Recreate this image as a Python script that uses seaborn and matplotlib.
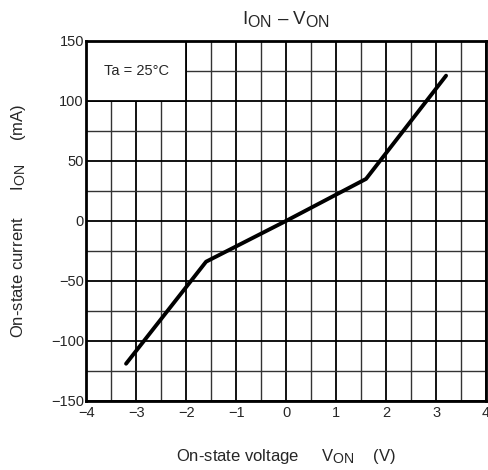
import matplotlib
matplotlib.use("Agg")
import matplotlib.pyplot as plt
import matplotlib._mathtext as mathtext_internals
from matplotlib.patches import Rectangle
import numpy as np
import pandas as pd
import seaborn as sns

# curve
v_on = [-3.2, -1.6, 0.0, 1.6, 3.2]
i_on = [-119, -34, 0, 35, 121]

x_ticks = [-4, -3, -2, -1, 0, 1, 2, 3, 4]
y_ticks = [-150, -100, -50, 0, 50, 100, 150]

sns.set_style("white")
plt.rcParams['font.family'] = ['Liberation Sans', 'DejaVu Sans']
plt.rcParams['mathtext.fontset'] = 'custom'
plt.rcParams['mathtext.rm'] = 'Liberation Sans'
plt.rcParams['mathtext.it'] = 'Liberation Sans'
# datasheet subscripts are nearly full size
mathtext_internals.SHRINK_FACTOR = 0.85

df = pd.DataFrame({"V": v_on, "I": i_on})

fig = plt.figure(figsize=(4.89, 4.70), dpi=100)
ax = fig.add_axes([0.176, 0.147, 0.818, 0.766])

sns.lineplot(data=df, x="V", y="I", color="black", linewidth=2.8,
             sort=False, ax=ax, zorder=5)

ax.set_xlim(-4, 4)
ax.set_ylim(-150, 150)
ax.set_xticks(x_ticks)
ax.set_yticks(y_ticks)
ax.set_xticklabels([str(t).replace("-", "\u2212") for t in x_ticks])
ax.set_yticklabels([str(t).replace("-", "\u2212") for t in y_ticks])
ax.set_xticks(np.arange(-4, 4.01, 0.5), minor=True)
ax.set_yticks(np.arange(-150, 151, 25), minor=True)
ax.grid(which="major", color="black", linewidth=1.3)
ax.grid(which="minor", color="#333333", linewidth=1.0)
ax.tick_params(which="both", length=0, labelsize=10.5)
ax.tick_params(axis="x", pad=4)
ax.tick_params(axis="y", pad=1.5)
for s in ax.spines.values():
    s.set_linewidth(2)
    s.set_color("black")
    s.set_zorder(6)

# condition box in the upper-left corner
ax.add_patch(Rectangle((-4, 100), 2, 50, facecolor="white",
                       edgecolor="black", linewidth=1.3, zorder=3))
ax.text(-3, 125, "Ta = 25°C", ha="center", va="center", fontsize=10.5, zorder=4)

ax.set_title(r"I$_{\mathrm{ON}}$ – V$_{\mathrm{ON}}$", fontsize=13.5, y=1.025)
ax.set_xlabel(r"On-state voltage     V$_{\mathrm{ON}}$    (V)", fontsize=12)
ax.set_ylabel(r"On-state current      I$_{\mathrm{ON}}$     (mA)", fontsize=12)
ax.xaxis.set_label_coords(0.5, -0.128)
ax.yaxis.set_label_coords(-0.145, 0.5)

fig.savefig("out.png", dpi=100)
